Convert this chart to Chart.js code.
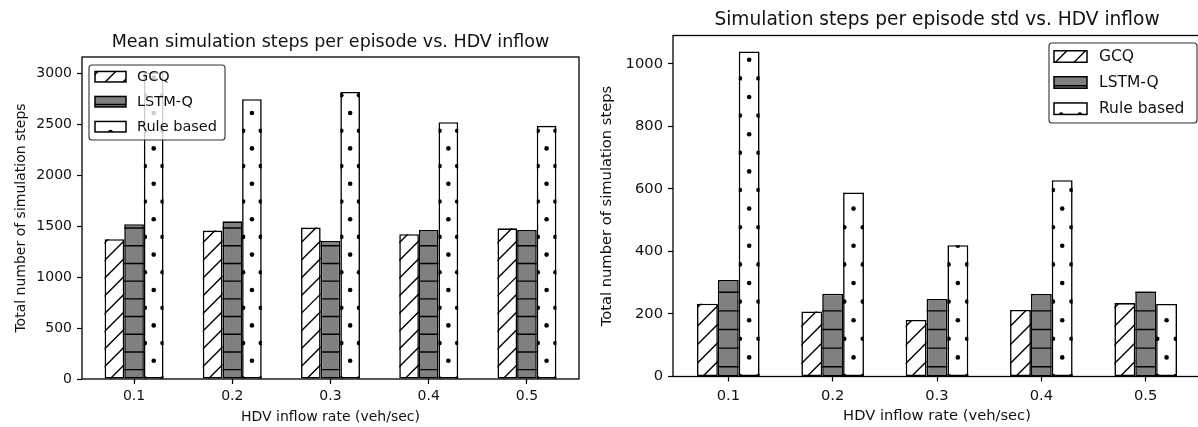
<!DOCTYPE html>
<html>
<head>
<meta charset="utf-8">
<script src="https://cdn.jsdelivr.net/npm/chart.js@4.4.0/dist/chart.umd.min.js"></script>
<style>
  html, body { margin: 0; padding: 0; background: #fff; width: 1198px; height: 427px; overflow: hidden; }
  .panel { position: absolute; top: 0; }
  #panel-mean { left: 0; }
  #panel-std  { left: 594px; }
</style>
</head>
<body>
<div class="panel" id="panel-mean"><canvas id="chart-mean" width="600" height="427"></canvas></div>
<div class="panel" id="panel-std"><canvas id="chart-std" width="612" height="427"></canvas></div>
<script>
'use strict';

// ── Data ──────────────────────────────────────────────────────
const categories  = ['0.1', '0.2', '0.3', '0.4', '0.5'];
const seriesNames = ['GCQ', 'LSTM-Q', 'Rule based'];

const meanGCQ  = [1373, 1458, 1487, 1422, 1480];
const meanLSTM = [1520, 1549, 1356, 1464, 1464];
const meanRule = [3010, 2748, 2820, 2523, 2487];

const stdGCQ  = [233, 208, 181, 213, 235];
const stdLSTM = [309, 265, 248, 264, 272];
const stdRule = [1040, 589, 420, 628, 232];

const meanTicks = [0, 500, 1000, 1500, 2000, 2500, 3000];
const stdTicks  = [0, 200, 400, 600, 800, 1000];

// ── Styling ───────────────────────────────────────────────────
const FONT = "'DejaVu Sans', 'Liberation Sans', sans-serif";
const INK  = '#111';
const SERIES_STYLE = [
  { fill: '#ffffff', hatch: '/' },
  { fill: '#808080', hatch: '-' },
  { fill: '#ffffff', hatch: '.' }
];

Chart.defaults.font.family = FONT;
Chart.defaults.color = INK;

// ── Hatching (matplotlib-like) ────────────────────────────────
function drawHatch(ctx, kind, r, ax, ay, d) {
  ctx.save();
  ctx.beginPath();
  ctx.rect(r.x, r.y, r.w, r.h);
  ctx.clip();
  ctx.strokeStyle = '#000';
  ctx.fillStyle = '#000';
  ctx.lineWidth = 1.4;
  if (kind === '/') {
    const cMin = r.x + r.y, cMax = r.x + r.w + r.y + r.h;
    const c0 = ax + ay;
    ctx.beginPath();
    for (let c = c0 + Math.floor((cMin - c0) / d) * d; c <= cMax + d; c += d) {
      ctx.moveTo(r.x - 2, c - r.x + 2);
      ctx.lineTo(r.x + r.w + 2, c - r.x - r.w - 2);
    }
    ctx.stroke();
  } else if (kind === '-') {
    ctx.beginPath();
    const k0 = Math.floor((r.y - ay) / d), k1 = Math.ceil((r.y + r.h - ay) / d);
    for (let k = k0; k <= k1; k++) {
      const y = ay + k * d;
      ctx.moveTo(r.x - 1, y);
      ctx.lineTo(r.x + r.w + 1, y);
    }
    ctx.stroke();
  } else if (kind === '.') {
    const k0 = Math.floor((r.y - ay) / d) - 1, k1 = Math.ceil((r.y + r.h - ay) / d) + 1;
    for (let k = k0; k <= k1; k++) {
      const y = ay + k * d;
      const shift = (((k % 2) + 2) % 2) ? d / 2 : 0;
      const j0 = Math.floor((r.x - ax - shift) / d) - 1, j1 = Math.ceil((r.x + r.w - ax - shift) / d) + 1;
      for (let j = j0; j <= j1; j++) {
        ctx.beginPath();
        ctx.arc(ax + shift + j * d, y, 2.3, 0, Math.PI * 2);
        ctx.fill();
      }
    }
  }
  ctx.restore();
}

function drawLegend(chart, L, d) {
  const ctx = chart.ctx, a = chart.chartArea;
  const left = L.side === 'left' ? a.left + L.dx : a.right - L.dx - L.w;
  const top  = a.top + L.dy;
  ctx.save();
  ctx.beginPath();
  if (ctx.roundRect) ctx.roundRect(left, top, L.w, L.h, 3); else ctx.rect(left, top, L.w, L.h);
  ctx.fillStyle = 'rgba(255,255,255,0.8)';
  ctx.fill();
  ctx.strokeStyle = '#333';
  ctx.lineWidth = 1.1;
  ctx.stroke();
  ctx.font = `${L.fontSize}px ${FONT}`;
  ctx.textBaseline = 'middle';
  ctx.textAlign = 'left';
  chart.data.datasets.forEach((ds, i) => {
    const cy = top + L.rows[i];
    const r  = { x: left + L.patchX, y: cy - L.patchH / 2, w: L.patchW, h: L.patchH };
    const cx = r.x + r.w / 2;
    ctx.fillStyle = ds.backgroundColor;
    ctx.fillRect(r.x, r.y, r.w, r.h);
    if (ds.hatch === '-') drawHatch(ctx, '-', r, cx, r.y + r.h - 2.5, d);
    else if (ds.hatch === '.') drawHatch(ctx, '.', r, cx - L.shift, r.y + r.h, d);
    else drawHatch(ctx, '/', r, cx - L.shift, cy, d);
    ctx.strokeStyle = '#000';
    ctx.lineWidth = 1.5;
    ctx.strokeRect(r.x, r.y, r.w, r.h);
    ctx.fillStyle = INK;
    ctx.fillText(ds.label, left + L.textX, cy + 0.5);
  });
  ctx.restore();
}

const figurePlugin = {
  id: 'figureDecor',
  afterDatasetsDraw(chart, args, opts) {
    const ctx = chart.ctx;
    const d = opts.hatchSize;
    chart.data.datasets.forEach((ds, i) => {
      chart.getDatasetMeta(i).data.forEach(bar => {
        const p = bar.getProps(['x', 'y', 'base', 'width'], true);
        const r = { x: p.x - p.width / 2, y: Math.min(p.y, p.base), w: p.width, h: Math.abs(p.base - p.y) };
        let ax = p.x, ay = p.base;
        if (ds.hatch === '/') ax = r.x + d / 3;
        else if (ds.hatch === '-') ay = p.base - d / 2;
        else ay = p.base - d;
        drawHatch(ctx, ds.hatch, r, ax, ay, d);
      });
    });
    // axes frame (spines)
    const a = chart.chartArea;
    ctx.save();
    ctx.strokeStyle = '#000';
    ctx.lineWidth = 1.3;
    ctx.strokeRect(a.left, a.top, a.right - a.left, a.bottom - a.top);
    ctx.restore();
    drawLegend(chart, opts.legend, d);
  }
};

// ── Chart builder ─────────────────────────────────────────────
function groupedBars(canvasId, values, yTicks, geo) {
  const datasets = values.map((vals, s) => ({
    label: seriesNames[s],
    data: vals.map((v, i) => ({ x: i, y: v })),
    xAxisID: 'x',
    yAxisID: 'y',
    backgroundColor: SERIES_STYLE[s].fill,
    hatch: SERIES_STYLE[s].hatch,
    borderColor: '#000',
    borderWidth: 1.6,
    borderSkipped: false,
    categoryPercentage: 0.6,
    barPercentage: 1.0
  }));

  const tickGrid = { drawOnChartArea: false, drawTicks: true, tickLength: 5, tickColor: '#000', tickWidth: 1.2, offset: false };

  return new Chart(document.getElementById(canvasId), {
    type: 'bar',
    data: { datasets },
    plugins: [figurePlugin],
    options: {
      responsive: false,
      animation: false,
      layout: { padding: geo.padding },
      plugins: {
        legend: { display: false },
        tooltip: { enabled: false },
        title: { display: false },
        figureDecor: { hatchSize: geo.hatch, legend: geo.legend }
      },
      scales: {
        x: {
          type: 'linear', min: -0.53, max: 4.53, offset: false,
          afterBuildTicks: sc => { sc.ticks = categories.map((_, i) => ({ value: i })); },
          afterFit: sc => { sc.height = geo.xAxisH; },
          ticks: { callback: v => categories[v], font: { size: geo.tickSize }, color: INK, padding: geo.xTickPad },
          grid: tickGrid,
          border: { display: false },
          title: {
            display: true, text: 'HDV inflow rate (veh/sec)', color: INK,
            font: { size: geo.tickSize }, padding: { top: 0, bottom: geo.xTitlePad }
          }
        },
        y: {
          min: 0, max: geo.yMax,
          afterBuildTicks: sc => { sc.ticks = yTicks.map(v => ({ value: v })); },
          afterFit: sc => { sc.width = geo.yAxisW; },
          ticks: { callback: v => String(v), font: { size: geo.tickSize }, color: INK, padding: 5 },
          grid: tickGrid,
          border: { display: false },
          title: {
            display: true, text: 'Total number of simulation steps', color: INK,
            font: { size: geo.tickSize }, padding: { top: geo.yTitlePad, bottom: 0 }
          }
        },
        // title row, centred over the plot like matplotlib's ax.set_title
        titleRow: {
          type: 'linear', axis: 'x', position: 'top', min: 0, max: 1,
          afterFit: sc => { sc.height = geo.topH; },
          ticks: { display: false },
          grid: { display: false },
          border: { display: false },
          title: {
            display: true, text: geo.title, color: INK,
            font: { size: geo.titleSize }, padding: { top: geo.titlePadTop, bottom: 0 }
          }
        }
      }
    }
  });
}

// ── Init ──────────────────────────────────────────────────────
groupedBars('chart-mean', [meanGCQ, meanLSTM, meanRule], meanTicks, {
  title: 'Mean simulation steps per episode vs. HDV inflow',
  titleSize: 17.5, topH: 57, titlePadTop: 32,
  padding: { left: 0, right: 21, top: 0, bottom: 0 },
  tickSize: 14, xAxisH: 48, yAxisW: 82, yMax: 3163,
  xTickPad: 4, xTitlePad: 1.1, yTitlePad: 12.6, hatch: 17.7,
  legend: { side: 'left', dx: 7, dy: 8, w: 136, h: 75, patchX: 6, patchW: 31, patchH: 10.5,
            textX: 48, rows: [11.7, 36.7, 61.7], fontSize: 14.5, shift: 0 }
});

groupedBars('chart-std', [stdGCQ, stdLSTM, stdRule], stdTicks, {
  title: 'Simulation steps per episode std vs. HDV inflow',
  titleSize: 18.6, topH: 35.5, titlePadTop: 8.8,
  padding: { left: 0, right: 5, top: 0, bottom: 0 },
  tickSize: 14.7, xAxisH: 50.5, yAxisW: 79, yMax: 1091,
  xTickPad: 6, xTitlePad: 1.7, yTitlePad: 4.2, hatch: 18.6,
  legend: { side: 'right', dx: 4, dy: 7.5, w: 148, h: 80, patchX: 5, patchW: 33, patchH: 11.5,
            textX: 50, rows: [13.5, 39.5, 65.7], fontSize: 15.5, shift: 9.3 }
});
</script>
</body>
</html>
